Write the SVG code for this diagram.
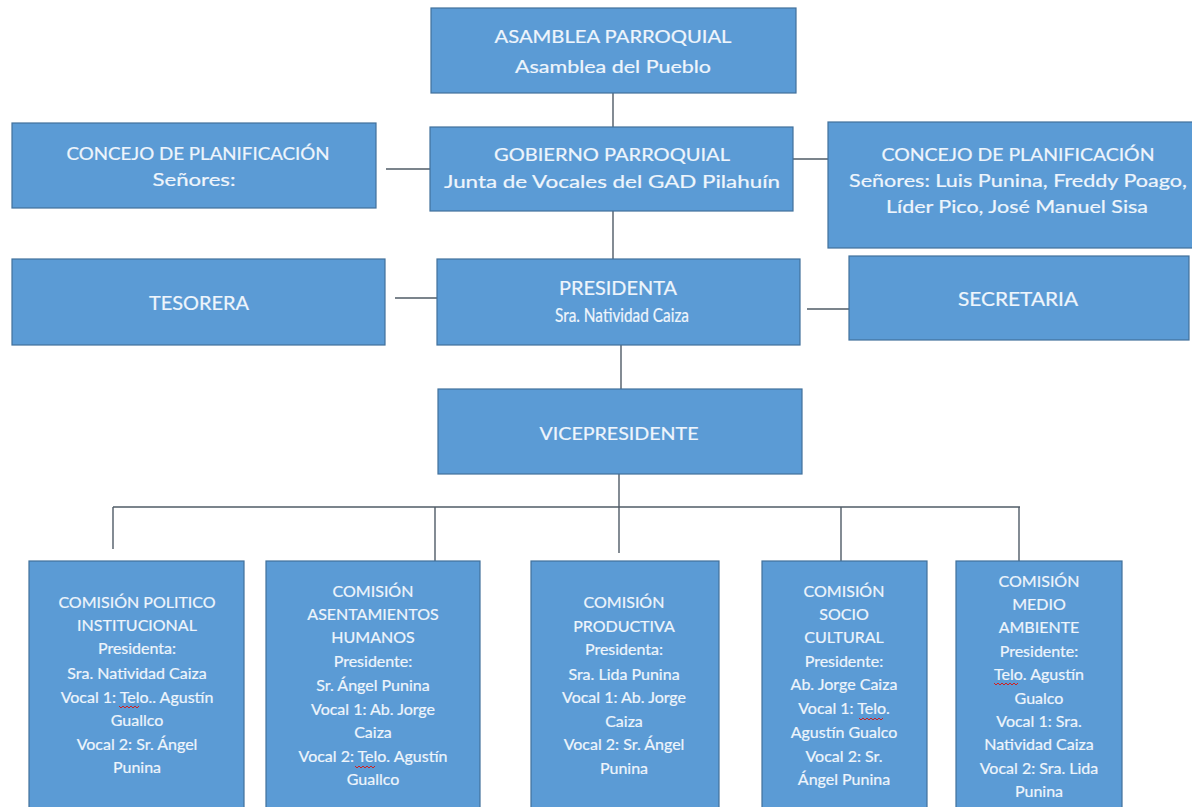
<svg xmlns="http://www.w3.org/2000/svg" width="1192" height="807" viewBox="0 0 1192 807">
<style>
.box{fill:#5b9bd5;stroke:#41719c;stroke-width:1.2}
.t{font-family:Lato,"Open Sans","Liberation Sans",sans-serif;fill:#eef5fc;stroke:#eef5fc;stroke-width:0.2;text-anchor:middle;font-size:17px}
.n{font-size:19px}
.s{font-size:16px}
.c{stroke:#4f5b66;stroke-width:1.4;fill:none}
.sq{stroke:#d02020;stroke-width:1;fill:none}
</style>
<rect width="1192" height="807" fill="#ffffff"/>
<g id="connectors">
<path class="c" d="M613 93V127"/>
<path class="c" d="M386 169H430"/>
<path class="c" d="M793 159H828"/>
<path class="c" d="M613 211V259"/>
<path class="c" d="M395 298H437"/>
<path class="c" d="M807 309H849"/>
<path class="c" d="M621 345V389"/>
<path class="c" d="M619 474V553"/>
<path class="c" d="M113 507H1020"/>
<path class="c" d="M113 507V549"/>
<path class="c" d="M435 507V561"/>
<path class="c" d="M841 507V561"/>
<path class="c" d="M1019 507V561"/>
</g>
<g id="asamblea">
<rect class="box" x="431" y="8" width="365" height="85"/>
<text class="t" x="613" y="43" textLength="237" lengthAdjust="spacingAndGlyphs">ASAMBLEA PARROQUIAL</text>
<text class="t" x="613" y="73" textLength="196" lengthAdjust="spacingAndGlyphs">Asamblea del Pueblo</text>
</g>
<g id="gobierno">
<rect class="box" x="430" y="127" width="363" height="84"/>
<text class="t" x="612" y="161" textLength="236" lengthAdjust="spacingAndGlyphs">GOBIERNO PARROQUIAL</text>
<text class="t" x="612" y="188" textLength="336" lengthAdjust="spacingAndGlyphs">Junta de Vocales del GAD Pilahuín</text>
</g>
<g id="concejo-left">
<rect class="box" x="12" y="123" width="364" height="85"/>
<text class="t" x="198" y="160" textLength="263" lengthAdjust="spacingAndGlyphs">CONCEJO DE PLANIFICACIÓN</text>
<text class="t" x="194" y="186" textLength="83" lengthAdjust="spacingAndGlyphs">Señores:</text>
</g>
<g id="concejo-right">
<rect class="box" x="828" y="122" width="380" height="126"/>
<text class="t" x="1018" y="161" textLength="273" lengthAdjust="spacingAndGlyphs">CONCEJO DE PLANIFICACIÓN</text>
<text class="t" x="1018" y="187" textLength="338" lengthAdjust="spacingAndGlyphs">Señores: Luis Punina, Freddy Poago,</text>
<text class="t" x="1017" y="213" textLength="262" lengthAdjust="spacingAndGlyphs">Líder Pico, José Manuel Sisa</text>
</g>
<g id="tesorera">
<rect class="box" x="12" y="259" width="373" height="86"/>
<text class="t n" x="199" y="310" textLength="100" lengthAdjust="spacingAndGlyphs">TESORERA</text>
</g>
<g id="presidenta">
<rect class="box" x="437" y="259" width="363" height="86"/>
<text class="t n" x="618" y="295" textLength="118" lengthAdjust="spacingAndGlyphs">PRESIDENTA</text>
<text class="t n" x="622" y="322" textLength="134" lengthAdjust="spacingAndGlyphs">Sra. Natividad Caiza</text>
</g>
<g id="secretaria">
<rect class="box" x="849" y="256" width="340" height="84"/>
<text class="t n" x="1018" y="306" textLength="120" lengthAdjust="spacingAndGlyphs">SECRETARIA</text>
</g>
<g id="vicepresidente">
<rect class="box" x="438" y="389" width="364" height="85"/>
<text class="t" x="619" y="440" textLength="159" lengthAdjust="spacingAndGlyphs">VICEPRESIDENTE</text>
</g>
<g id="comision-politico">
<rect class="box" x="29" y="561" width="215" height="260"/>
<text class="t s" x="137" y="608">COMISIÓN POLITICO</text>
<text class="t s" x="137" y="631">INSTITUCIONAL</text>
<text class="t s" x="137" y="654">Presidenta:</text>
<text class="t s" x="137" y="679">Sra. Natividad Caiza</text>
<text class="t s" x="137" y="703">Vocal 1: Telo.. Agustín</text>
<text class="t s" x="137" y="726">Guallco</text>
<text class="t s" x="137" y="750">Vocal 2: Sr. Ángel</text>
<text class="t s" x="137" y="773">Punina</text>
<path class="sq" d="M119 706l2 2 2-2 2 2 2-2 2 2 2-2 2 2 2-2 2 2 2-2"/>
</g>
<g id="comision-asentamientos">
<rect class="box" x="266" y="561" width="214" height="260"/>
<text class="t s" x="373" y="597">COMISIÓN</text>
<text class="t s" x="373" y="620">ASENTAMIENTOS</text>
<text class="t s" x="373" y="643">HUMANOS</text>
<text class="t s" x="373" y="667">Presidente:</text>
<text class="t s" x="373" y="691">Sr. Ángel Punina</text>
<text class="t s" x="373" y="715">Vocal 1: Ab. Jorge</text>
<text class="t s" x="373" y="738">Caiza</text>
<text class="t s" x="373" y="762">Vocal 2: Telo. Agustín</text>
<text class="t s" x="373" y="785">Guallco</text>
<path class="sq" d="M355 766l2 2 2-2 2 2 2-2 2 2 2-2 2 2 2-2 2 2 2-2"/>
</g>
<g id="comision-productiva">
<rect class="box" x="531" y="561" width="188" height="260"/>
<text class="t s" x="624" y="608">COMISIÓN</text>
<text class="t s" x="624" y="632">PRODUCTIVA</text>
<text class="t s" x="624" y="655">Presidenta:</text>
<text class="t s" x="624" y="680">Sra. Lida Punina</text>
<text class="t s" x="624" y="703">Vocal 1: Ab. Jorge</text>
<text class="t s" x="624" y="727">Caiza</text>
<text class="t s" x="624" y="750">Vocal 2: Sr. Ángel</text>
<text class="t s" x="624" y="774">Punina</text>
</g>
<g id="comision-socio">
<rect class="box" x="762" y="561" width="165" height="260"/>
<text class="t s" x="844" y="597">COMISIÓN</text>
<text class="t s" x="844" y="620">SOCIO</text>
<text class="t s" x="844" y="643">CULTURAL</text>
<text class="t s" x="844" y="667">Presidente:</text>
<text class="t s" x="844" y="690">Ab. Jorge Caiza</text>
<text class="t s" x="844" y="714">Vocal 1: Telo.</text>
<text class="t s" x="844" y="738">Agustín Gualco</text>
<text class="t s" x="844" y="762">Vocal 2: Sr.</text>
<text class="t s" x="844" y="785">Ángel Punina</text>
<path class="sq" d="M859 718l2 2 2-2 2 2 2-2 2 2 2-2 2 2 2-2 2 2 2-2 2 2 2-2"/>
</g>
<g id="comision-medio">
<rect class="box" x="956" y="561" width="166" height="260"/>
<text class="t s" x="1039" y="587">COMISIÓN</text>
<text class="t s" x="1039" y="610">MEDIO</text>
<text class="t s" x="1039" y="633">AMBIENTE</text>
<text class="t s" x="1039" y="657">Presidente:</text>
<text class="t s" x="1039" y="680">Telo. Agustín</text>
<text class="t s" x="1039" y="704">Gualco</text>
<text class="t s" x="1039" y="727">Vocal 1: Sra.</text>
<text class="t s" x="1039" y="750">Natividad Caiza</text>
<text class="t s" x="1039" y="774">Vocal 2: Sra. Lida</text>
<text class="t s" x="1039" y="797">Punina</text>
<path class="sq" d="M994 683l2 2 2-2 2 2 2-2 2 2 2-2 2 2 2-2 2 2 2-2 2 2 2-2"/>
</g>
</svg>
